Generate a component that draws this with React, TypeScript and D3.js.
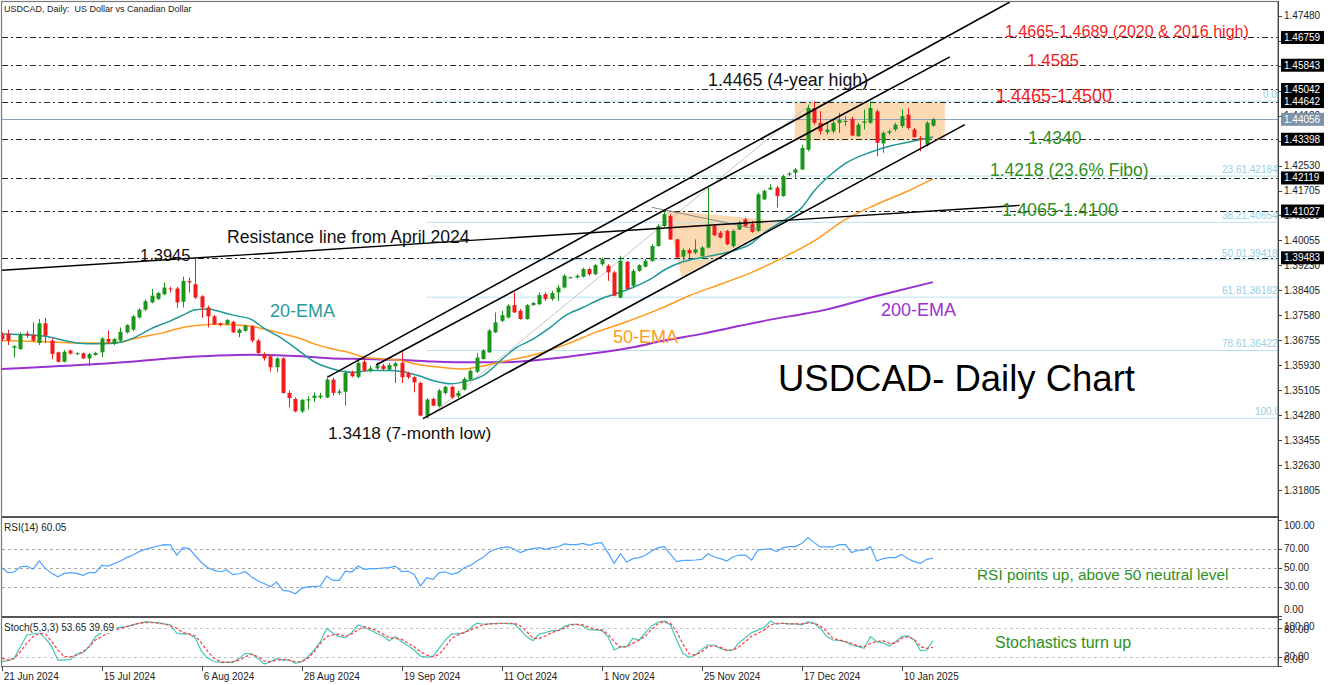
import React from "react";
import * as d3 from "d3";

// ---------- DATA ----------
const priceTicks = [1.4748, 1.46655, 1.4583, 1.45005, 1.4418, 1.43355, 1.4253, 1.41705, 1.4088, 1.40055, 1.3923, 1.38405, 1.3758, 1.36755, 1.3593, 1.35105, 1.3428, 1.33455, 1.3263, 1.31805];
const markedLevels = [1.46759, 1.45843, 1.45042, 1.44642, 1.43398, 1.42119, 1.41027, 1.39483];
const lastPrice = 1.44056;
const dateLabels = ["21 Jun 2024", "15 Jul 2024", "6 Aug 2024", "28 Aug 2024", "19 Sep 2024", "11 Oct 2024", "1 Nov 2024", "25 Nov 2024", "17 Dec 2024", "10 Jan 2025"];
const dateBars = [0, 16, 32, 48, 64, 80, 96, 112, 128, 144];

const opens = [1.3693,1.3697,1.3651,1.3647,1.3698,1.3694,1.3667,1.3732,1.3675,1.3636,1.3605,1.3642,1.3631,1.3633,1.3616,1.3627,1.3636,1.368,1.3664,1.3675,1.3702,1.3711,1.3751,1.3777,1.3801,1.3812,1.3828,1.3847,1.3847,1.3803,1.3871,1.3861,1.3821,1.3784,1.3755,1.3732,1.3729,1.3737,1.37,1.3707,1.3722,1.3675,1.3631,1.3623,1.3587,1.3616,1.3502,1.3482,1.3441,1.3477,1.3485,1.3487,1.3487,1.3546,1.3502,1.3506,1.357,1.3555,1.3605,1.3575,1.3583,1.3592,1.3579,1.359,1.3601,1.3567,1.3554,1.3535,1.3427,1.3482,1.3458,1.3502,1.3522,1.3491,1.3513,1.3546,1.3572,1.3614,1.3636,1.3702,1.374,1.3751,1.3792,1.3773,1.3746,1.3792,1.3795,1.3828,1.3812,1.3834,1.385,1.3883,1.3883,1.3886,1.3911,1.3894,1.3927,1.3922,1.39,1.3817,1.3935,1.3856,1.3905,1.3919,1.3938,1.3987,1.4053,1.4086,1.4009,1.3952,1.3974,1.3965,1.3954,1.3982,1.4053,1.4031,1.4037,1.3987,1.4042,1.4075,1.4059,1.4037,1.4141,1.4174,1.418,1.4152,1.4223,1.4229,1.424,1.4305,1.4443,1.4394,1.4363,1.4366,1.4394,1.4399,1.4407,1.435,1.4394,1.4394,1.4432,1.4326,1.4361,1.4372,1.4383,1.4421,1.4372,1.4344,1.4322,1.4385];
const highs = [1.3702,1.3711,1.366,1.3702,1.3706,1.3735,1.3746,1.375,1.3682,1.3638,1.3643,1.3645,1.3636,1.3636,1.3634,1.3638,1.3686,1.3708,1.3684,1.3718,1.3729,1.3759,1.3781,1.3811,1.3845,1.3836,1.3867,1.3852,1.3852,1.3886,1.3883,1.3946,1.3825,1.379,1.3759,1.3735,1.3746,1.374,1.3715,1.3727,1.3726,1.368,1.3636,1.3627,1.362,1.362,1.351,1.3487,1.3482,1.3491,1.3504,1.3502,1.3559,1.3552,1.3515,1.3576,1.3576,1.3612,1.3612,1.3592,1.3603,1.3598,1.3601,1.3605,1.3636,1.3572,1.3557,1.3539,1.3485,1.3487,1.3515,1.3526,1.3526,1.351,1.3554,1.3581,1.3634,1.3647,1.3713,1.3768,1.3773,1.3795,1.3834,1.3779,1.3795,1.3803,1.3834,1.3834,1.3839,1.3858,1.3894,1.3886,1.3894,1.3916,1.3916,1.3927,1.3949,1.3927,1.3905,1.3955,1.3938,1.3911,1.3927,1.3944,1.3993,1.4059,1.4108,1.4092,1.4011,1.3979,1.3979,1.4009,1.3987,1.418,1.4059,1.4037,1.404,1.4042,1.407,1.4081,1.407,1.4163,1.4174,1.4191,1.4185,1.4223,1.4231,1.4245,1.4322,1.4454,1.4465,1.4432,1.4394,1.4405,1.4427,1.4416,1.4414,1.4394,1.4438,1.4465,1.4438,1.4366,1.4372,1.4394,1.4438,1.4443,1.4377,1.435,1.4399,1.441];
const lows = [1.3673,1.366,1.3619,1.3644,1.3684,1.3669,1.366,1.3667,1.3614,1.3603,1.3603,1.3628,1.3627,1.3614,1.359,1.3625,1.362,1.3664,1.366,1.3671,1.3698,1.3706,1.3748,1.3772,1.3798,1.3809,1.3825,1.3834,1.3783,1.3784,1.3834,1.3812,1.375,1.3718,1.3726,1.3722,1.3726,1.37,1.3686,1.3704,1.3669,1.3631,1.3609,1.3572,1.357,1.3499,1.3455,1.3438,1.3436,1.3447,1.3473,1.3482,1.3485,1.3493,1.3495,1.346,1.3554,1.355,1.3572,1.357,1.3579,1.3575,1.3576,1.3535,1.3535,1.3548,1.3504,1.3425,1.3419,1.3458,1.3455,1.3496,1.3482,1.3485,1.351,1.3543,1.3568,1.3612,1.3634,1.37,1.3735,1.3748,1.3766,1.3744,1.3744,1.379,1.3792,1.3806,1.3806,1.3806,1.3847,1.388,1.388,1.3883,1.3889,1.3891,1.3922,1.3872,1.3821,1.3814,1.3843,1.385,1.3902,1.3916,1.3935,1.3985,1.405,1.4007,1.3946,1.3941,1.3941,1.396,1.3944,1.3979,1.402,1.4012,1.399,1.3982,1.404,1.4048,1.4031,1.4034,1.4139,1.4172,1.4114,1.415,1.4218,1.4213,1.4238,1.43,1.4388,1.4355,1.4355,1.4359,1.4361,1.4383,1.435,1.4348,1.4372,1.4391,1.4284,1.4295,1.4355,1.4366,1.4377,1.4372,1.4344,1.43,1.4316,1.4381];
const closes = [1.368,1.3675,1.3656,1.3695,1.3691,1.3675,1.3732,1.3691,1.3631,1.3605,1.3638,1.3632,1.3633,1.3616,1.363,1.3634,1.3682,1.3671,1.368,1.3704,1.3726,1.3755,1.3777,1.3805,1.3823,1.3832,1.385,1.3844,1.3801,1.3872,1.3867,1.3817,1.3784,1.3755,1.3729,1.3726,1.3743,1.3702,1.3711,1.3724,1.3675,1.3634,1.3616,1.3587,1.3616,1.3502,1.3485,1.3441,1.3479,1.3481,1.3493,1.3493,1.3546,1.3502,1.3507,1.3568,1.3557,1.3601,1.3576,1.3583,1.3592,1.3581,1.3594,1.36,1.3554,1.3554,1.3537,1.3427,1.348,1.346,1.351,1.3522,1.3487,1.3502,1.3548,1.3575,1.3619,1.3642,1.3708,1.3735,1.3759,1.379,1.3768,1.3746,1.3792,1.3799,1.3825,1.3812,1.3832,1.385,1.3889,1.3884,1.3889,1.3911,1.3894,1.3924,1.3944,1.39,1.3823,1.3938,1.3845,1.3905,1.3924,1.3938,1.3987,1.4053,1.4092,1.4009,1.3949,1.3974,1.3963,1.3976,1.3982,1.4053,1.4023,1.4015,1.3993,1.4037,1.4064,1.4053,1.4034,1.4158,1.4169,1.418,1.4152,1.4218,1.4227,1.424,1.4311,1.4443,1.4394,1.4366,1.4372,1.4394,1.4403,1.44,1.4352,1.4388,1.4399,1.4443,1.4328,1.4361,1.4366,1.4388,1.4416,1.4377,1.4347,1.4339,1.4394,1.4406];

const ema20Bars = [0,5,7,10,12,15,18,21,24,27,29,31,33,35,37,40,42,45,48,50,53,56,59,62,64,67,69,72,74,77,80,82,85,88,90,93,96,98,101,104,106,109,112,114,117,120,122,125,128,130,133,135,139,142,146,149];
const ema20Vals = [1.3697,1.3693,1.3689,1.3675,1.3667,1.3664,1.3666,1.3683,1.3715,1.374,1.3759,1.3777,1.3779,1.377,1.3759,1.3744,1.3715,1.368,1.3634,1.3605,1.3581,1.357,1.3576,1.3576,1.3573,1.3557,1.3543,1.3532,1.3539,1.3559,1.3612,1.3647,1.368,1.3722,1.3755,1.3784,1.3814,1.3828,1.385,1.388,1.3908,1.3935,1.3949,1.3957,1.3971,1.3996,1.4031,1.407,1.4114,1.4169,1.4229,1.426,1.4297,1.4317,1.4334,1.4347];
const ema50Bars = [0,7,12,16,19,21,26,29,32,34,37,40,42,45,48,50,53,56,58,61,64,66,69,72,74,76,80,85,90,95,100,105,110,115,120,125,130,135,140,145,149];
const ema50Vals = [1.3675,1.3671,1.3667,1.3667,1.3669,1.368,1.3702,1.3718,1.3726,1.3729,1.3727,1.3722,1.3713,1.3697,1.368,1.3664,1.3647,1.3633,1.362,1.3614,1.3609,1.3598,1.3589,1.3583,1.3581,1.3587,1.3605,1.3627,1.366,1.3702,1.3737,1.3777,1.3823,1.3861,1.39,1.3949,1.4004,1.4075,1.4125,1.4169,1.4209];
const ema200Bars = [0,16,32,40,48,53,58,64,69,76,80,85,90,96,101,106,112,117,122,128,131,140,149];
const ema200Vals = [1.3581,1.3598,1.3623,1.3628,1.3623,1.3616,1.3614,1.3611,1.3606,1.3603,1.3603,1.3609,1.362,1.3636,1.3653,1.3675,1.3697,1.3719,1.374,1.3762,1.3773,1.3822,1.3868];

const rsiVals = [50,44.8,45.5,51,51.7,48.3,57,49,44.1,40.6,44.1,44.8,44.1,42,44.8,44.8,52.4,51.7,54.2,57,60.5,63.2,66.7,69.2,70.9,72.6,74,73.7,62.9,70.9,69.9,62.2,55.2,50,47.2,45.8,47.6,42.7,43.7,45.8,40.2,36.1,33.6,30.1,35,26.3,25.6,22.8,28.7,30.1,30.5,30.8,41.3,36.8,36.8,46.5,45.5,51.7,48.3,49,49,49.7,50,51.7,45.8,46.5,43,30.8,39.5,37.8,44.8,45.5,43,44.8,50,52.4,57,60.5,66.4,69.2,70.9,71.6,69.2,65.7,68.5,69.9,70.9,69.2,70.9,71.6,74.7,74,74,75.4,73.3,75.4,76.1,65.7,54.5,64.6,55.9,59.4,60.5,62.9,67.4,70.9,72,63.9,56.3,57.7,57.7,58,58.7,64.6,61.1,59.4,57,61.1,63.2,63.2,58,68.5,69.2,69.9,66.7,70.9,72,72,75.1,81.4,76.1,71.6,71.6,71.6,74,74,65.7,68.1,68.5,72,57,59.4,60.5,60.5,63.9,59.4,56.3,54.5,58.7,60.05];
const stochK = [9.4,11.5,16.5,41.2,65.9,68,70.8,58.8,41.2,12.9,12.9,14.4,25.6,28.5,41.2,62.4,70.8,76.5,80,82.1,83.5,87.1,90.6,94.1,92.7,92,89.2,87.1,69.4,68,68,58.8,30.6,16.5,9.4,8,8,8,16.5,27.1,25.6,16.5,4.5,9.4,16.5,12.9,12.9,5.9,9.4,20,34.1,51.8,80,69.4,62.4,60.2,70.8,87.1,82.1,76.5,69.4,63.8,53.9,62.4,51.8,43.3,34.1,21,19,20.5,38,55,68,68,70.8,80,90.6,88.5,89.2,90.6,90.6,90,89.2,76.5,62.4,53.9,68,70.8,75.1,75.1,83.5,88.5,88.5,84.9,76.5,76.5,75.1,62.4,34.1,41.2,41.2,58.8,55.3,70.8,84.9,92.7,95.5,87.1,55.3,27.1,18.6,23.5,35.5,44.7,44.7,37.7,32.7,34.1,49.7,60.2,70.8,76,82.1,94.8,88.5,90.6,89.2,89.2,87.1,94.1,90.6,80,62.4,55.3,53.9,51.8,44.7,41.2,37.7,62.4,51.8,49.7,42.6,51.8,62.4,63.8,55.3,32.7,34.1,53.65];
const stochD = [16.5,12.9,16.5,30.6,48.2,62.4,69.4,68,51.8,34.1,20,20,23.5,30.6,41.2,55.3,62.4,69.4,75.1,80,83.5,87.1,90.6,92,92.7,90.6,89.2,84.9,80,70.8,68,63.8,48.2,30.6,16.5,9.4,8,9.4,12.9,20,25.6,20,11.5,9.4,12.9,14.4,12.9,9.4,9.4,16.5,30.6,48.2,62.4,65.9,68,62.4,68,76.5,83.5,80,75.1,68,60.2,58.8,56.7,48.2,41.2,30.6,23.5,20,25,41,58.8,65.9,70.8,76.5,82.1,87.1,89.2,89.2,90.6,90.6,90.6,84.9,73,58.8,58.8,63.8,70.8,75.1,80,87.1,88.5,87.1,82.1,77.9,76.5,68,51.8,39.8,41.2,48.2,55.3,63.8,77.9,89.2,94.1,90.6,73,46.8,25.6,23.5,30.6,41.2,42.6,39.8,34.1,34.1,41.2,51.8,63.8,69.4,76.5,87.1,90.6,90.6,89.2,89.2,89.2,90.6,90.6,84.9,73,58.8,55.3,51.8,48.2,42.6,41.2,48.2,51.8,53.9,48.2,48.2,58.8,62.4,56.7,41.2,37.7,39.69];

const fibLevels = [0, 23.6, 38.2, 50, 61.8, 78.6, 100];
const fibHigh = 1.44656;
const fibLow = 1.3418;
const fibLowBar = 68;
const fibHighBar = 130;

// trend lines: [bar1, price1, bar2, price2]
const channelLines = [
  [52.2, 1.3555, 161.3, 1.4793],
  [59.9, 1.3594, 151.7, 1.4612],
  [67.4, 1.3417, 154.1, 1.4388],
];
const resistanceLine = [0, 1.3907, 162.9, 1.41213];
const triangleTopLine = [104.05, 1.41148, 121.0, 1.40424];
const trianglePts = [[106.3, 1.41049], [108.8, 1.38842], [125.0, 1.40686]];
const rangeBox = [126.9, 1.44615, 150.9, 1.43364];

const rsiLevels = [70, 50, 30];
const stochLevels = [80, 20];

// ---------- CHART ----------
const FONT = "'Liberation Sans', Arial, sans-serif";

export default function App() {
  const L = 2, R = 1278, T = 2, MB = 516;
  const x = d3.scaleLinear().domain([0, 204.08]).range([1.7, 1277.2]);
  const y = d3.scaleLinear().domain([1.30955, 1.47931]).range([MB, T]);
  const ry = d3.scaleLinear().domain([0, 100]).range([615.7, 519.7]);
  const sy = d3.scaleLinear().domain([0, 100]).range([666.2, 618.8]);

  const emaPath = (bars: number[], vals: number[]) =>
    d3.line<number>().x((_, k) => x(bars[k])).y((v) => y(v)).curve(d3.curveMonotoneX)(vals) || "";
  const idxLine = (scale: d3.ScaleLinear<number, number>) =>
    d3.line<number>().x((_, k) => x(k)).y((v) => scale(v));

  const bull = "#1b961b", bear = "#f21c1c";
  const dashDot = "6,3,2,3";

  return (
    <svg width={1332} height={685} style={{ position: "fixed", left: 0, top: 0, background: "#fff" }} fontFamily={FONT}>
      <defs>
        <clipPath id="cMain"><rect x={L} y={T} width={R - L} height={MB - T} /></clipPath>
        <clipPath id="cRsi"><rect x={L} y={518} width={R - L} height={98} /></clipPath>
        <clipPath id="cSto"><rect x={L} y={618} width={R - L} height={48} /></clipPath>
      </defs>
      <rect x={0} y={0} width={1332} height={685} fill="#fff" />

      {/* ---------- MAIN PANEL ---------- */}
      <g clipPath="url(#cMain)">
        {/* shaded patterns */}
        <rect x={x(rangeBox[0])} y={y(rangeBox[1])} width={x(rangeBox[2]) - x(rangeBox[0])} height={y(rangeBox[3]) - y(rangeBox[1])} fill="#fbd9b3" />
        <polygon points={trianglePts.map((p) => `${x(p[0])},${y(p[1])}`).join(" ")} fill="#fbd9b3" />

        {/* fibonacci */}
        {fibLevels.map((lv) => {
          const p = fibHigh - (lv / 100) * (fibHigh - fibLow);
          const lx = lv === 0 ? 1263 : lv === 100 ? 1255 : 1222;
          return (
            <g key={"f" + lv}>
              <line x1={x(fibLowBar)} x2={R} y1={y(p)} y2={y(p)} stroke="#b9e2ee" strokeWidth={1} />
              <text x={lx} y={y(p) - 3} fontSize={10} fill="#97d0e3">{lv.toFixed(1) + p.toFixed(5)}</text>
            </g>
          );
        })}
        <line x1={x(fibLowBar)} y1={y(fibLow)} x2={x(fibHighBar)} y2={y(fibHigh)} stroke="#b8b8b8" strokeWidth={0.8} />

        {/* horizontal levels */}
        {markedLevels.map((v) => (
          <line key={"m" + v} x1={L} x2={R} y1={Math.round(y(v)) + 0.5} y2={Math.round(y(v)) + 0.5} stroke="#2a2a2a" strokeWidth={1} strokeDasharray={dashDot} />
        ))}
        <line x1={L} x2={R} y1={Math.round(y(lastPrice)) + 0.5} y2={Math.round(y(lastPrice)) + 0.5} stroke="#8ea2b5" strokeWidth={1} />

        {/* EMAs */}
        <path d={emaPath(ema200Bars, ema200Vals)} fill="none" stroke="#9a30d0" strokeWidth={2} />
        <path d={emaPath(ema50Bars, ema50Vals)} fill="none" stroke="#ff9a1e" strokeWidth={1.5} />
        <path d={emaPath(ema20Bars, ema20Vals)} fill="none" stroke="#1f9898" strokeWidth={1.5} />

        {/* candles */}
        {closes.map((c, i) => {
          const o = opens[i];
          const up = c >= o;
          const col = up ? bull : bear;
          const cx = Math.round(x(i)) + 0.5;
          const yt = y(Math.max(o, c));
          const yb = y(Math.min(o, c));
          return (
            <g key={"c" + i}>
              <line x1={cx} x2={cx} y1={y(highs[i])} y2={y(lows[i])} stroke={col} strokeWidth={1} />
              <rect x={cx - 2} y={yt} width={4} height={Math.max(1, yb - yt)} fill={col} />
            </g>
          );
        })}

        {/* trend lines */}
        <line x1={x(triangleTopLine[0])} y1={y(triangleTopLine[1])} x2={x(triangleTopLine[2])} y2={y(triangleTopLine[3])} stroke="#8a8a8a" strokeWidth={1} />
        {channelLines.map((l, k) => (
          <line key={"ch" + k} x1={x(l[0])} y1={y(l[1])} x2={x(l[2])} y2={y(l[3])} stroke="#000" strokeWidth={1.6} />
        ))}
        <line x1={x(resistanceLine[0])} y1={y(resistanceLine[1])} x2={x(resistanceLine[2])} y2={y(resistanceLine[3])} stroke="#000" strokeWidth={1.4} />

        {/* annotations */}
        <text x={4} y={12} fontSize={9} fill="#222" style={{ whiteSpace: "pre" }}>{"USDCAD, Daily:  US Dollar vs Canadian Dollar"}</text>
        <text x={1005} y={37} fontSize={16} fill="#f01e1e">1.4665-1.4689 (2020 &amp; 2016 high)</text>
        <text x={1027} y={66} fontSize={17} fill="#f01e1e">1.4585</text>
        <text x={996} y={102} fontSize={18} fill="#f01e1e">1.4465-1.4500</text>
        <text x={708} y={86} fontSize={17.8} fill="#111">1.4465 (4-year high)</text>
        <text x={1028} y={144} fontSize={17.5} fill="#2f8f22">1.4340</text>
        <text x={990} y={176} fontSize={17.5} fill="#2f8f22">1.4218 (23.6% Fibo)</text>
        <text x={1002} y={216} fontSize={18} fill="#2f8f22">1.4065-1.4100</text>
        <text x={227} y={243} fontSize={17.6} fill="#111">Resistance line from April 2024</text>
        <text x={140} y={261} fontSize={16.5} fill="#111">1.3945</text>
        <text x={270} y={317} fontSize={18} fill="#2a9b9b">20-EMA</text>
        <text x={613} y={343} fontSize={18} fill="#ff9a1e">50-EMA</text>
        <text x={881} y={316} fontSize={18} fill="#9a30d0">200-EMA</text>
        <text x={778} y={391} fontSize={36.5} fill="#000">USDCAD- Daily Chart</text>
        <text x={328} y={439} fontSize={17.3} fill="#111">1.3418 (7-month low)</text>
      </g>

      {/* ---------- RSI PANEL ---------- */}
      <g clipPath="url(#cRsi)">
        {rsiLevels.map((v) => (
          <line key={"rl" + v} x1={L} x2={R} y1={Math.round(ry(v)) + 0.5} y2={Math.round(ry(v)) + 0.5} stroke="#a8a8a8" strokeDasharray="3,3" />
        ))}
        <path d={idxLine(ry)(rsiVals) || ""} fill="none" stroke="#4aa3ff" strokeWidth={1.2} />
        <text x={4} y={531} fontSize={10} fill="#222">RSI(14) 60.05</text>
        <text x={977} y={580} fontSize={15.4} fill="#2f8f22">RSI points up, above 50 neutral level</text>
      </g>

      {/* ---------- STOCH PANEL ---------- */}
      <g clipPath="url(#cSto)">
        {stochLevels.map((v) => (
          <line key={"sl" + v} x1={L} x2={R} y1={Math.round(sy(v)) + 0.5} y2={Math.round(sy(v)) + 0.5} stroke="#c4c4c4" strokeDasharray="3,3" />
        ))}
        <path d={idxLine(sy)(stochK) || ""} fill="none" stroke="#45c6b6" strokeWidth={1.2} />
        <path d={idxLine(sy)(stochD) || ""} fill="none" stroke="#ff3a3a" strokeWidth={1.2} strokeDasharray="3,2" />
        <rect x={3} y={621} width={113} height={12} fill="#fff" />
        <text x={4} y={631} fontSize={10} fill="#222">Stoch(5,3,3) 53.65 39.69</text>
        <text x={995} y={648} fontSize={16} fill="#2f8f22">Stochastics turn up</text>
      </g>

      {/* ---------- FRAMES ---------- */}
      <rect x={1.5} y={1.5} width={R - 1.5} height={665} fill="none" stroke="#7a7a7a" strokeWidth={1.2} />
      <line x1={L} x2={R} y1={517} y2={517} stroke="#555" strokeWidth={2} />
      <line x1={L} x2={R} y1={617} y2={617} stroke="#555" strokeWidth={2} />
      <line x1={R + 0.5} x2={R + 0.5} y1={1} y2={667} stroke="#444" strokeWidth={1} />

      {/* ---------- PRICE AXIS ---------- */}
      <g fontSize={10} fill="#222">
        {priceTicks.map((v) => (
          <g key={"pt" + v}>
            <line x1={R} x2={R + 4} y1={Math.round(y(v)) + 0.5} y2={Math.round(y(v)) + 0.5} stroke="#444" />
            <text x={R + 6} y={y(v) + 3.5}>{v.toFixed(5)}</text>
          </g>
        ))}
        {markedLevels.map((v) => (
          <g key={"mb" + v}>
            <rect x={R + 3} y={y(v) - 6.5} width={43} height={13} fill="#000" />
            <text x={R + 6} y={y(v) + 3.5} fill="#fff">{v.toFixed(5)}</text>
          </g>
        ))}
        <rect x={R + 3} y={y(lastPrice) - 6.5} width={43} height={13} fill="#7e93a8" />
        <text x={R + 6} y={y(lastPrice) + 3.5} fill="#fff">{lastPrice.toFixed(5)}</text>

        {/* RSI axis */}
        {[100, 70, 50, 30, 0].map((v) => {
          const yy = v === 100 ? 525 : v === 0 ? 609 : ry(v);
          return (
            <g key={"ra" + v}>
              <line x1={R} x2={R + 4} y1={Math.round(ry(v)) + 0.5} y2={Math.round(ry(v)) + 0.5} stroke="#444" />
              <text x={R + 6} y={yy + 3.5}>{v.toFixed(2)}</text>
            </g>
          );
        })}
        {/* Stoch axis */}
        {[[100, 626], [80, 629], [20, 656], [0, 659]].map(([v, yy]) => (
          <g key={"sa" + v}>
            <line x1={R} x2={R + 4} y1={Math.round(sy(v)) + 0.5} y2={Math.round(sy(v)) + 0.5} stroke="#444" />
            <text x={R + 6} y={yy + 3.5}>{v.toFixed(2)}</text>
          </g>
        ))}
      </g>

      {/* ---------- TIME AXIS ---------- */}
      <g fontSize={10} fill="#222">
        {dateBars.map((b, k) => (
          <g key={"d" + b}>
            <line x1={Math.round(x(b)) + 0.5} x2={Math.round(x(b)) + 0.5} y1={666} y2={671} stroke="#444" />
            <text x={x(b) + 2} y={680}>{dateLabels[k]}</text>
          </g>
        ))}
      </g>
    </svg>
  );
}
